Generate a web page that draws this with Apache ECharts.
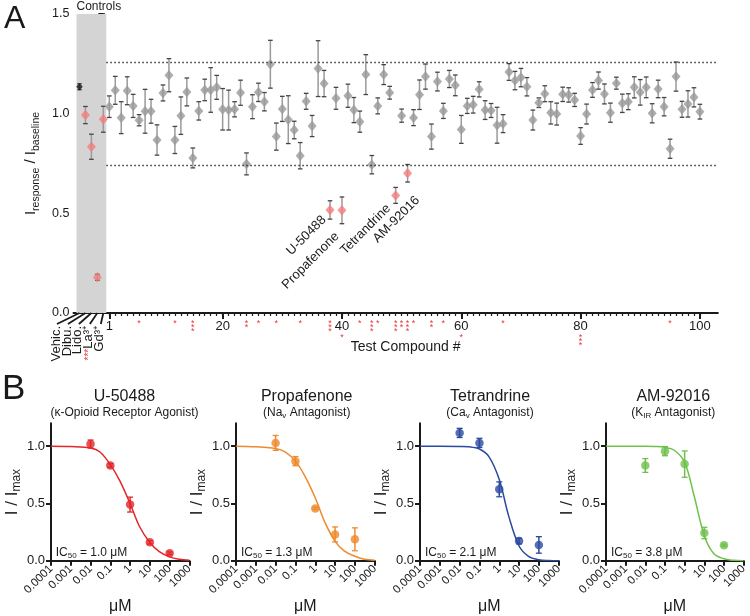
<!DOCTYPE html>
<html>
<head>
<meta charset="utf-8">
<script src="https://cdn.jsdelivr.net/npm/echarts@6/dist/echarts.min.js"></script>
<style>
html, body { margin: 0; padding: 0; background: #fff; }
#chart { width: 750px; height: 616px; }
</style>
</head>
<body>
<div id="chart"></div>
<script>
// ---- panel A : screen ----
var controlNames = ['Vehic.', 'Dibu.', 'Lido.', '{r|***}La³⁺', 'Gd³⁺'];
var controlPos = [-4, -3, -2, -1, 0];
var controlMean = [1.135, 0.993, 0.834, 0.179, 0.972];
var controlErr = [0.015, 0.043, 0.063, 0.015, 0.065];

var compoundMean = [
    1.035, 1.117, 0.980, 1.115, 1.039, 0.967, 1.012, 1.012, 0.868, 1.104,
    1.193, 0.868, 0.990, 1.109, 0.778, 1.014, 1.119, 1.119, 1.132, 1.022,
    1.018, 1.022, 1.105, 0.748, 1.035, 1.107, 1.060, 1.248, 0.885, 1.024,
    0.970, 0.918, 0.789, 1.062, 0.938, 1.226, 1.151, 0.517, 1.077, 0.515,
    1.090, 1.018, 0.960, 1.196, 0.744, 1.039, 1.196, 1.105, 0.590, 0.990,
    0.701, 0.980, 1.095, 1.186, 0.885, 1.161, 1.014, 1.174, 1.142, 0.921,
    1.039, 1.045, 1.122, 1.018, 1.016, 0.942, 0.950, 1.209, 1.166, 1.181,
    1.135, 0.968, 1.055, 1.100, 1.004, 0.998, 1.097, 1.094, 1.069, 0.888,
    0.998, 1.119, 1.166, 1.099, 1.005, 1.153, 1.052, 1.060, 1.132, 1.107,
    1.132, 1.002, 1.124, 1.035, 0.824, 1.186, 1.022, 1.049, 1.082, 1.010
];
var compoundErr = [
    0.054, 0.070, 0.080, 0.070, 0.058, 0.028, 0.110, 0.060, 0.076, 0.040,
    0.083, 0.068, 0.094, 0.070, 0.050, 0.046, 0.054, 0.112, 0.060, 0.104,
    0.100, 0.038, 0.063, 0.055, 0.060, 0.046, 0.046, 0.120, 0.068, 0.063,
    0.120, 0.044, 0.066, 0.040, 0.053, 0.140, 0.066, 0.046, 0.055, 0.067,
    0.058, 0.063, 0.053, 0.100, 0.046, 0.040, 0.050, 0.032, 0.040, 0.033,
    0.044, 0.040, 0.074, 0.063, 0.063, 0.047, 0.038, 0.043, 0.052, 0.070,
    0.038, 0.042, 0.038, 0.047, 0.035, 0.090, 0.045, 0.042, 0.046, 0.046,
    0.046, 0.050, 0.024, 0.040, 0.056, 0.055, 0.036, 0.036, 0.033, 0.042,
    0.050, 0.037, 0.043, 0.050, 0.048, 0.030, 0.046, 0.040, 0.053, 0.064,
    0.052, 0.048, 0.044, 0.046, 0.048, 0.073, 0.040, 0.066, 0.048, 0.037
];
var hitIds = [38, 40, 49, 51];
var hitNames = ['U-50488', 'Propafenone', 'Tetrandrine', 'AM-92016'];
var sigIds = [6, 12, 15, 24, 26, 29, 33, 38, 40, 43, 45, 46, 49, 50, 51, 52, 55, 57, 60, 67, 80, 95];
var sigStars = [1, 1, 3, 2, 1, 1, 1, 3, 1, 1, 3, 1, 3, 2, 3, 1, 2, 1, 1, 1, 3, 1];
var thresholds = [1.26, 0.74];
var controlBand = [-4.5, 0.5];
var majorTicks = [1, 20, 40, 60, 80, 100];

// ---- panel B : dose responses ----
var doseTicks = [0.0001, 0.001, 0.01, 0.1, 1, 10, 100, 1000];
var doseLabels = ['0.0001', '0.001', '0.01', '0.1', '1', '10', '100', '1000'];
var yTicksB = [0, 0.5, 1.0];
var doses = [0.01, 0.1, 1, 10, 100];
var u50488Mean = [1.019, 0.832, 0.491, 0.162, 0.066];
var u50488Err = [0.035, 0.015, 0.065, 0.015, 0.012];
var propafenoneMean = [1.029, 0.870, 0.457, 0.231, 0.188];
var propafenoneErr = [0.065, 0.040, 0.010, 0.065, 0.100];
var tetrandrineMean = [1.116, 1.029, 0.624, 0.173, 0.139];
var tetrandrineErr = [0.040, 0.040, 0.065, 0.025, 0.072];
var am92016Mean = [0.832, 0.957, 0.844, 0.243, 0.136];
var am92016Err = [0.060, 0.040, 0.115, 0.050, 0.010];

var fitDoses = [0.0001, 0.001, 0.01, 0.03, 0.1, 0.3, 1, 3, 10, 30, 100, 300, 1000];
var u50488Fit = [1.0, 0.997, 0.985, 0.95, 0.84, 0.70, 0.50, 0.30, 0.16, 0.08, 0.035, 0.015, 0.005];
var propafenoneFit = [1.0, 0.995, 0.98, 0.95, 0.87, 0.74, 0.55, 0.34, 0.17, 0.085, 0.04, 0.015, 0.006];
var tetrandrineFit = [1.0, 1.0, 0.998, 0.995, 0.976, 0.91, 0.71, 0.39, 0.13, 0.04, 0.01, 0.003, 0.001];
var am92016Fit = [1.0, 1.0, 1.0, 0.998, 0.99, 0.965, 0.86, 0.57, 0.22, 0.065, 0.018, 0.005, 0.001];

var panelTitles = ['U-50488', 'Propafenone', 'Tetrandrine', 'AM-92016'];
var panelTargets = ['(κ-Opioid Receptor Agonist)', '(Na{s|v} Antagonist)', '(Ca{s|v} Antagonist)', '(K{s|IR} Antagonist)'];
var panelIC50 = ['1.0', '1.3', '2.1', '3.8'];
var panelMeans = [u50488Mean, propafenoneMean, tetrandrineMean, am92016Mean];
var panelErrs = [u50488Err, propafenoneErr, tetrandrineErr, am92016Err];
var panelFits = [u50488Fit, propafenoneFit, tetrandrineFit, am92016Fit];

// ---- styling ----
var FONT = '"Liberation Sans", Arial, Helvetica, sans-serif';
var INK = '#1a1a1a';
var GREY = '#999999';
var PINK = '#f47d7d';
var STAR = '#e5383b';
var panelColors = ['#e3262b', '#ee8a2b', '#2b4aa1', '#6ec14b'];
var gridLefts = [50.7, 236, 420, 606];
var titleCenters = [119.5, 301.7, 485, 668.3];
var hitLabelOffsets = [[-6, 8], [-5, 24], [-7, 11], [10, 25]];

var chart = echarts.init(document.getElementById('chart'), null, { renderer: 'canvas' });

// vertical error bar with caps; stem and caps may differ in colour
function errorBars(capHalf, stemColor, capColor) {
    return function (params, api) {
        var x = api.value(0), y = api.value(1), e = api.value(2);
        var hi = api.coord([x, y + e]);
        var lo = api.coord([x, y - e]);
        var stem = { stroke: stemColor, lineWidth: 1.5 };
        var cap = { stroke: capColor, lineWidth: 1.3 };
        return {
            type: 'group',
            children: [
                { type: 'line', shape: { x1: hi[0], y1: hi[1], x2: lo[0], y2: lo[1] }, style: stem },
                { type: 'line', shape: { x1: hi[0] - capHalf, y1: hi[1], x2: hi[0] + capHalf, y2: hi[1] }, style: cap },
                { type: 'line', shape: { x1: lo[0] - capHalf, y1: lo[1], x2: lo[0] + capHalf, y2: lo[1] }, style: cap }
            ]
        };
    };
}

var compoundIds = compoundMean.map(function (v, i) { return i + 1; });
var greyPts = [], pinkPts = [], barPts = [], hitPts = [];
compoundIds.forEach(function (id, i) {
    barPts.push([id, compoundMean[i], compoundErr[i]]);
    var h = hitIds.indexOf(id);
    if (h >= 0) {
        pinkPts.push([id, compoundMean[i]]);
        hitPts.push([id, compoundMean[i], compoundErr[i], h]);
    } else {
        greyPts.push([id, compoundMean[i]]);
    }
});
controlPos.forEach(function (p, i) {
    barPts.push([p, controlMean[i], controlErr[i]]);
    if (i > 0) pinkPts.push([p, controlMean[i]]);
});

var grids = [{ left: 73.5, right: 32.2, top: 14, bottom: 303 }];
var xAxes = [
    {
        type: 'value', gridIndex: 0, min: -5, max: 103, position: 'bottom',
        axisLine: { lineStyle: { color: INK, width: 2 } },
        axisTick: { show: true, customValues: compoundIds, length: 3, lineStyle: { color: INK, width: 1.2 } },
        axisLabel: { customValues: majorTicks, margin: 7, color: INK, fontSize: 13, fontFamily: FONT },
        splitLine: { show: false },
        name: 'Test Compound #', nameLocation: 'middle', nameGap: 27,
        nameTextStyle: { color: INK, fontSize: 14, fontFamily: FONT, padding: [0, 0, 0, 20] }
    },
    {
        type: 'value', gridIndex: 0, min: -5, max: 103, position: 'bottom',
        axisLine: { show: false },
        axisTick: { show: true, customValues: majorTicks, length: 6, lineStyle: { color: INK, width: 2 } },
        axisLabel: { show: false },
        splitLine: { show: false }
    }
];
var yAxes = [{
    type: 'value', gridIndex: 0, min: 0, max: 1.5, interval: 0.5,
    axisLine: { show: true, lineStyle: { color: INK, width: 2 } },
    axisTick: { show: true, length: 5, lineStyle: { color: INK, width: 2 } },
    axisLabel: { color: INK, fontSize: 12.5, fontFamily: FONT, margin: 4, formatter: function (v) { return v.toFixed(1); } },
    splitLine: { show: false },
    name: 'I{sub|response} / I{sub|baseline}', nameLocation: 'middle', nameGap: 31,
    nameTextStyle: {
        color: INK, fontSize: 15, lineHeight: 20, fontFamily: FONT,
        rich: { sub: { fontSize: 10.5, lineHeight: 10, verticalAlign: 'bottom', fontFamily: FONT, color: INK } }
    }
}];

var series = [
    {
        // controls band + hit thresholds
        type: 'line', xAxisIndex: 0, yAxisIndex: 0, data: [], z: 1, silent: true,
        markArea: {
            silent: true,
            itemStyle: { color: '#d4d4d4' },
            label: { show: true, position: [0, -7], align: 'left', verticalAlign: 'middle', color: INK, fontSize: 12, fontFamily: FONT },
            data: [[{ name: 'Controls', coord: [controlBand[0], 0] }, { coord: [controlBand[1], 1.5] }]]
        },
        markLine: {
            silent: true, symbol: 'none', label: { show: false },
            lineStyle: { color: '#333', type: [1.5, 2.5], width: 1.3 },
            data: thresholds.map(function (t) {
                return [{ coord: [controlBand[1], t] }, { coord: [103, t] }];
            })
        }
    },
    {
        type: 'custom', xAxisIndex: 0, yAxisIndex: 0, z: 3, clip: false,
        renderItem: errorBars(2.3, '#9a9a9a', '#444'), data: barPts
    },
    {
        type: 'scatter', xAxisIndex: 0, yAxisIndex: 0, z: 4, symbol: 'diamond', symbolSize: [9, 10.5],
        itemStyle: { color: GREY }, data: greyPts
    },
    {
        type: 'scatter', xAxisIndex: 0, yAxisIndex: 0, z: 4, symbol: 'diamond', symbolSize: [9, 10.5],
        itemStyle: { color: PINK }, data: pinkPts
    },
    {
        type: 'scatter', xAxisIndex: 0, yAxisIndex: 0, z: 5, symbol: 'diamond', symbolSize: [6.5, 7.5],
        itemStyle: { color: '#111' }, data: [[controlPos[0], controlMean[0]]]
    },
    {
        // hit names, rotated
        type: 'custom', xAxisIndex: 0, yAxisIndex: 0, z: 5, clip: false, silent: true,
        renderItem: function (params, api) {
            var p = api.coord([api.value(0), api.value(1)]);
            var h = api.value(3);
            var off = hitLabelOffsets[h];
            return {
                type: 'text', x: p[0] + off[0], y: p[1] + off[1], rotation: Math.PI / 4,
                style: { text: hitNames[h], fill: INK, fontSize: 13, fontFamily: FONT, align: 'right', verticalAlign: 'middle' }
            };
        },
        data: hitPts
    },
    {
        // significance stars under the axis
        type: 'custom', xAxisIndex: 0, yAxisIndex: 0, z: 5, clip: false, silent: true,
        renderItem: function (params, api) {
            var id = api.value(0), n = api.value(1);
            var p = api.coord([id, 0]);
            var below = majorTicks.indexOf(id) > 0;
            var kids = [];
            for (var k = 0; k < n; k++) {
                kids.push({
                    type: 'text', x: p[0], y: p[1] + (below ? 25 : 11) + k * 3.8,
                    style: { text: '*', fill: STAR, fontSize: 9, fontFamily: FONT, align: 'center', verticalAlign: 'middle' }
                });
            }
            return { type: 'group', children: kids };
        },
        data: sigIds.map(function (id, i) { return [id, sigStars[i]]; })
    },
    {
        // slanted control ticks and their labels
        type: 'custom', xAxisIndex: 0, yAxisIndex: 0, z: 5, clip: false, silent: true,
        renderItem: function (params, api) {
            var i = params.dataIndex;
            var p = api.coord([api.value(0), 0]);
            var shift = 2.5 + 5 * (controlPos.length - 1 - i);
            var ex = p[0] - shift, ey = p[1] + 11;
            return {
                type: 'group',
                children: [
                    { type: 'line', shape: { x1: p[0], y1: p[1], x2: ex, y2: ey }, style: { stroke: INK, lineWidth: 1.8 } },
                    {
                        type: 'text', x: ex - 1, y: ey + 2, rotation: Math.PI / 2,
                        style: {
                            text: controlNames[i], fill: INK, fontSize: 13, fontFamily: FONT, align: 'right', verticalAlign: 'middle',
                            rich: { r: { fill: STAR, fontSize: 10, fontFamily: FONT } }
                        }
                    }
                ]
            };
        },
        data: controlPos.map(function (p, i) { return [p, i]; })
    }
];

var titles = [];
var graphics = [
    { type: 'text', left: 4, top: 3, style: { text: 'A', fontSize: 32, fontFamily: FONT, fill: INK } },
    { type: 'text', left: 2, top: 372, style: { text: 'B', fontSize: 35, fontFamily: FONT, fill: INK } }
];

panelTitles.forEach(function (t, k) {
    var gi = k + 1;      // grid / yAxis index
    var xi = k + 2;      // xAxis index (top grid owns two x axes)
    grids.push({ left: gridLefts[k], width: 138.7, top: 423.3, bottom: 53.3 });
    xAxes.push({
        type: 'log', logBase: 10, gridIndex: gi, min: 0.0001, max: 1000,
        axisLine: { lineStyle: { color: INK, width: 2 } },
        axisTick: { show: true, customValues: doseTicks, length: 5, lineStyle: { color: INK, width: 2 } },
        axisLabel: {
            customValues: doseTicks, rotate: 45, margin: 6, color: INK, fontSize: 11.5, fontFamily: FONT,
            formatter: function (v) {
                var idx = Math.round(Math.log(v) / Math.LN10) + 4;
                return doseLabels[idx];
            }
        },
        splitLine: { show: false }, minorTick: { show: false },
        name: 'μM', nameLocation: 'middle', nameGap: 33,
        nameTextStyle: { color: INK, fontSize: 16, fontFamily: FONT }
    });
    yAxes.push({
        type: 'value', gridIndex: gi, min: 0, max: 1.2,
        axisLine: { show: true, lineStyle: { color: INK, width: 2 } },
        axisTick: { show: true, customValues: yTicksB, length: 5, lineStyle: { color: INK, width: 2 } },
        axisLabel: { customValues: yTicksB, color: INK, fontSize: 13, fontFamily: FONT, margin: 6, formatter: function (v) { return v.toFixed(1); } },
        splitLine: { show: false },
        name: 'I / I{sub|max}', nameLocation: 'middle', nameGap: 28,
        nameTextStyle: {
            color: INK, fontSize: 17, lineHeight: 22, fontFamily: FONT,
            rich: { sub: { fontSize: 12, lineHeight: 12, verticalAlign: 'bottom', fontFamily: FONT, color: INK } }
        }
    });
    titles.push({
        text: t, subtext: panelTargets[k], left: titleCenters[k], textAlign: 'center', top: 382.7, itemGap: 0,
        textStyle: { color: INK, fontSize: 16, fontWeight: 'normal', lineHeight: 18, fontFamily: FONT },
        subtextStyle: {
            color: INK, fontSize: 12, lineHeight: 14, fontFamily: FONT,
            rich: { s: { fontSize: 8, lineHeight: 8, verticalAlign: 'bottom', color: INK, fontFamily: FONT } }
        }
    });
    series.push({
        type: 'line', xAxisIndex: xi, yAxisIndex: gi, smooth: 0.35, showSymbol: false, z: 2,
        lineStyle: { color: panelColors[k], width: 1.5 },
        data: fitDoses.map(function (d, i) { return [d, panelFits[k][i]]; })
    });
    series.push({
        type: 'custom', xAxisIndex: xi, yAxisIndex: gi, z: 3, clip: false,
        renderItem: errorBars(3, panelColors[k], panelColors[k]),
        data: doses.map(function (d, i) { return [d, panelMeans[k][i], panelErrs[k][i]]; })
    });
    series.push({
        type: 'scatter', xAxisIndex: xi, yAxisIndex: gi, z: 4, symbol: 'circle', symbolSize: 8.5,
        itemStyle: { color: panelColors[k] },
        data: doses.map(function (d, i) { return [d, panelMeans[k][i]]; })
    });
    graphics.push({
        type: 'text', x: gridLefts[k] + 5, y: 553,
        style: {
            text: 'IC{s|50} = ' + panelIC50[k] + ' μM', fill: INK, fontSize: 12, lineHeight: 14, fontFamily: FONT,
            verticalAlign: 'middle',
            rich: { s: { fontSize: 8, lineHeight: 8, verticalAlign: 'bottom', fill: INK, fontFamily: FONT } }
        }
    });
});

chart.setOption({
    backgroundColor: '#fff',
    animation: false,
    textStyle: { fontFamily: FONT },
    title: titles,
    grid: grids,
    xAxis: xAxes,
    yAxis: yAxes,
    graphic: graphics,
    series: series
});
</script>
</body>
</html>
